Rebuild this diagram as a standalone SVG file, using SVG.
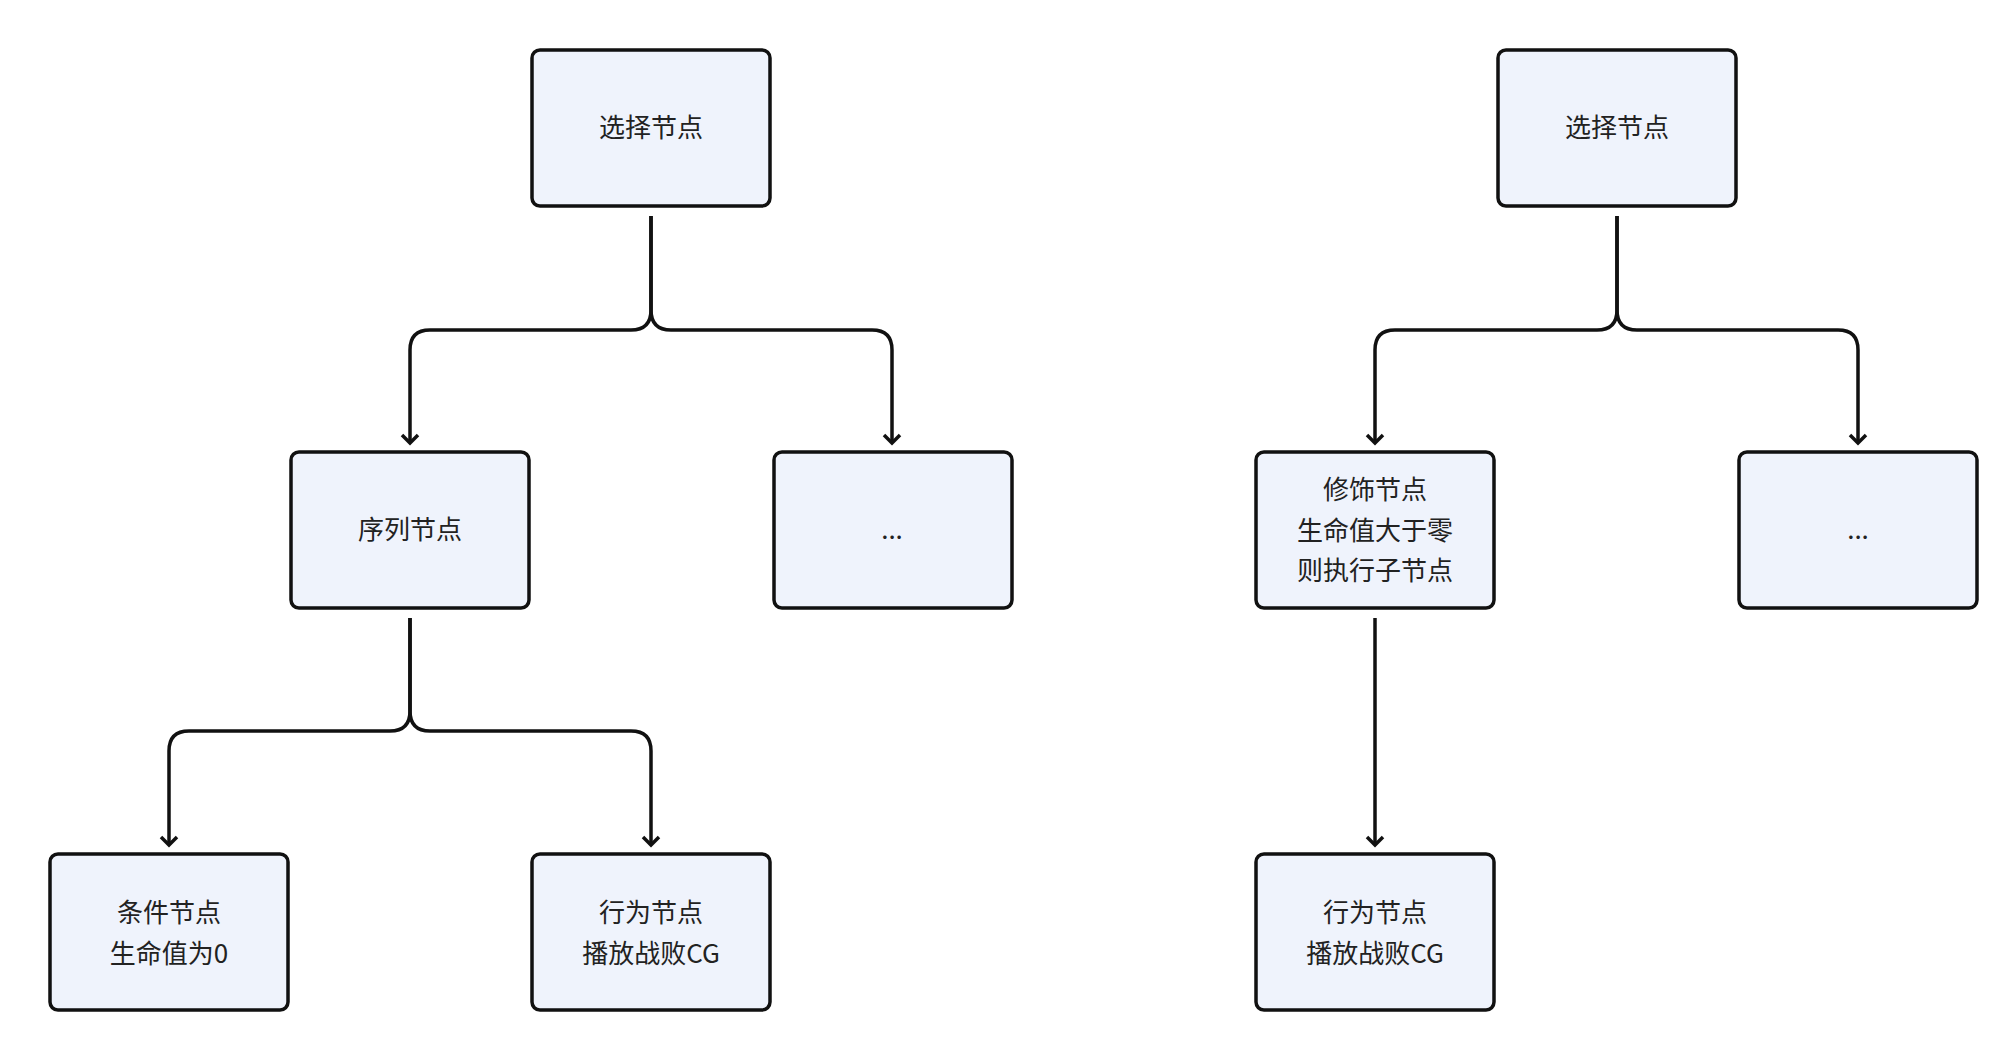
<svg xmlns="http://www.w3.org/2000/svg" width="2016" height="1056" viewBox="0 0 2016 1056">
<style>
.n rect{fill:#eff3fc;stroke:#111;stroke-width:3.5}
.n text{font-family:"Noto Sans CJK SC","Noto Sans",sans-serif;font-size:26px;fill:#222;text-anchor:middle}
.c path{fill:none;stroke:#111;stroke-width:3.5}
</style>
<defs><marker id="a" viewBox="0 0 20 20" refX="10" refY="10" markerWidth="20" markerHeight="20" markerUnits="userSpaceOnUse" orient="auto"><path d="M2,2 L10,10 L2,18" fill="none" stroke="#111" stroke-width="3.5"/></marker></defs>
<rect width="2016" height="1056" fill="#fff"/>
<g class="c">
<path d="M651,216 V310 Q651,330 631,330 H430 Q410,330 410,350 V443" marker-end="url(#a)"/>
<path d="M651,216 V310 Q651,330 671,330 H872 Q892,330 892,350 V443" marker-end="url(#a)"/>
<path d="M410,618 V711 Q410,731 390,731 H189 Q169,731 169,751 V845" marker-end="url(#a)"/>
<path d="M410,618 V711 Q410,731 430,731 H631 Q651,731 651,751 V845" marker-end="url(#a)"/>
<path d="M1617,216 V310 Q1617,330 1597,330 H1395 Q1375,330 1375,350 V443" marker-end="url(#a)"/>
<path d="M1617,216 V310 Q1617,330 1637,330 H1838 Q1858,330 1858,350 V443" marker-end="url(#a)"/>
<path d="M1375,618 V845" marker-end="url(#a)"/>
</g>
<g id="n1" class="n"><rect x="532" y="50" width="238" height="156" rx="8"/><text x="651" y="137">选择节点</text></g>
<g id="n2" class="n"><rect x="291" y="452" width="238" height="156" rx="8"/><text x="410" y="539">序列节点</text></g>
<g id="n3" class="n"><rect x="774" y="452" width="238" height="156" rx="8"/><text x="892" y="539">...</text></g>
<g id="n4" class="n"><rect x="50" y="854" width="238" height="156" rx="8"/><text x="169" y="922">条件节点</text><text x="169" y="963">生命值为0</text></g>
<g id="n5" class="n"><rect x="532" y="854" width="238" height="156" rx="8"/><text x="651" y="922">行为节点</text><text x="651" y="963">播放战败CG</text></g>
<g id="n6" class="n"><rect x="1498" y="50" width="238" height="156" rx="8"/><text x="1617" y="137">选择节点</text></g>
<g id="n7" class="n"><rect x="1256" y="452" width="238" height="156" rx="8"/><text x="1375" y="499">修饰节点</text><text x="1375" y="540">生命值大于零</text><text x="1375" y="580">则执行子节点</text></g>
<g id="n8" class="n"><rect x="1739" y="452" width="238" height="156" rx="8"/><text x="1858" y="539">...</text></g>
<g id="n9" class="n"><rect x="1256" y="854" width="238" height="156" rx="8"/><text x="1375" y="922">行为节点</text><text x="1375" y="963">播放战败CG</text></g>
</svg>
